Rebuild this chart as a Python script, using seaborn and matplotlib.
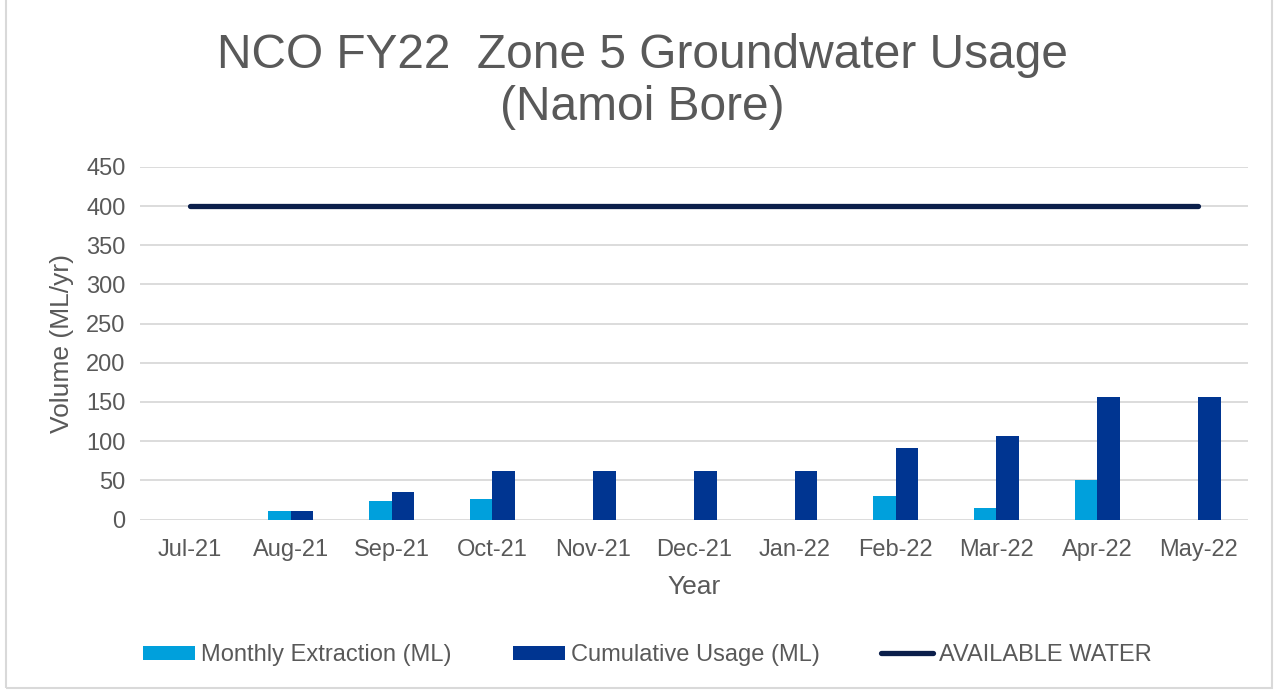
import matplotlib
matplotlib.use("Agg")
import matplotlib.pyplot as plt
import seaborn as sns
import pandas as pd
import numpy as np
from matplotlib.lines import Line2D
from matplotlib.patches import Patch, Rectangle

months = ["Jul-21", "Aug-21", "Sep-21", "Oct-21", "Nov-21", "Dec-21",
          "Jan-22", "Feb-22", "Mar-22", "Apr-22", "May-22"]
monthly = [0, 11, 24, 26, 0, 0, 0, 30, 14.5, 50.5, 0]
cumulative = [0, 11, 35, 61.5, 61.5, 61.5, 61.5, 91.5, 106, 157, 157]
available = [400] * 11

C_MONTH = "#00a0dc"
C_CUM = "#003591"
C_LINE = "#0b1f4b"
TXT = "#595959"

sns.set_theme(style="white")
plt.rcParams["font.family"] = ["Liberation Sans", "DejaVu Sans"]

df = pd.DataFrame({
    "Month": months * 2,
    "Value": monthly + cumulative,
    "Series": ["Monthly Extraction (ML)"] * 11 + ["Cumulative Usage (ML)"] * 11,
})

fig = plt.figure(figsize=(12.75, 6.9), dpi=100)
ax = fig.add_axes([139.6 / 1275, 1 - 519.5 / 690, (1248.4 - 139.6) / 1275, (519.5 - 167.0) / 690])

sns.barplot(data=df, x="Month", y="Value", hue="Series", order=months,
            palette=[C_MONTH, C_CUM], width=0.45, gap=0, ax=ax, legend=False,
            saturation=1, edgecolor="none")
sns.lineplot(x=np.arange(len(months)), y=available, color=C_LINE, lw=3.8,
             ax=ax, solid_capstyle="round")

ax.set_xlim(-0.5, len(months) - 0.5)
ax.set_ylim(0, 450)
ax.set_yticks(range(0, 451, 50))
ax.yaxis.grid(True, color="#d9d9d9", lw=1.3)
ax.set_axisbelow(True)
for s in ax.spines.values():
    s.set_visible(False)
ax.tick_params(axis="both", colors=TXT, labelsize=17, length=0, pad=10)
ax.tick_params(axis="x", pad=14)
ax.set_xlabel("Year", color=TXT, fontsize=19, labelpad=10)
ax.set_ylabel("Volume (ML/yr)", color=TXT, fontsize=19, labelpad=9)

fig.text(0.504, 1 - 56 / 690, "NCO FY22  Zone 5 Groundwater Usage", ha="center", va="center",
         fontsize=34.5, color=TXT)
fig.text(0.504, 1 - 107 / 690, "(Namoi Bore)", ha="center", va="center",
         fontsize=34.5, color=TXT)

handles = [Patch(facecolor=C_MONTH, edgecolor="none"),
           Patch(facecolor=C_CUM, edgecolor="none"),
           Line2D([0], [0], color=C_LINE, lw=3.8, solid_capstyle="round")]
labels = ["Monthly Extraction (ML)", "Cumulative Usage (ML)", "AVAILABLE WATER"]
leg = fig.legend(handles, labels, loc="center", bbox_to_anchor=(0.508, 1 - 655 / 690),
                 ncol=3, frameon=False, fontsize=17, handlelength=2.2, handleheight=0.55,
                 handletextpad=0.25, columnspacing=2.6)
for t in leg.get_texts():
    t.set_color(TXT)

fig.patches.append(Rectangle((6 / 1275, 2 / 690), 1266 / 1275, 700 / 690,
                             transform=fig.transFigure, fill=False,
                             edgecolor="#d9d9d9", lw=1.5))

fig.savefig("out.png", dpi=100)
